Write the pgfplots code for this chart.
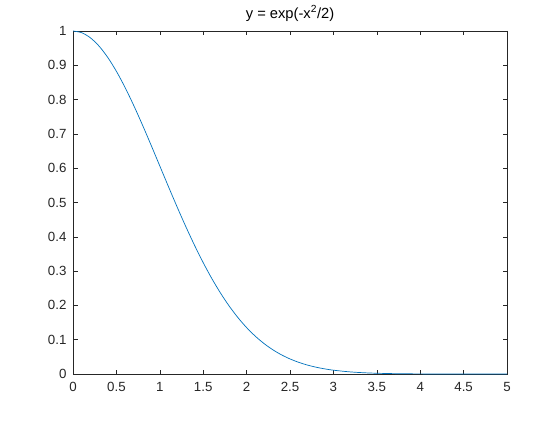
\documentclass[border=0pt]{standalone}
\usepackage{pgfplots}
\pgfplotsset{compat=1.18}
\usepackage{fontspec}
\setmainfont{Liberation Sans}
\definecolor{mlblue}{rgb}{0,0.447,0.741}
\definecolor{mlgray}{rgb}{0.15,0.15,0.15}
\begin{document}
\begin{tikzpicture}[x=1bp,y=1bp]
\path[use as bounding box, fill=white] (0,0) rectangle (560,420);
\begin{axis}[
  at={(73bp,46bp)}, anchor=south west,
  scale only axis, width=434bp, height=343bp,
  xmin=0, xmax=5, ymin=0, ymax=1,
  xtick={0,0.5,...,5}, ytick={0,0.1,...,1},
  tick align=inside, major tick length=4.5bp,
  axis line style={mlgray, line width=0.6bp},
  every tick/.style={mlgray, line width=0.6bp},
  tick label style={font=\fontsize{13.3bp}{15bp}\selectfont, text=mlgray},
  /pgf/number format/assume math mode=true,
  xticklabel style={yshift=-5bp},
  yticklabel style={xshift=-3bp},
  title={y = exp(-x\textsuperscript{2}/2)},
  title style={font=\fontsize{14.7bp}{16bp}\selectfont, text=black, at={(0.5,1)}, anchor=base, yshift=7bp},
]
\addplot[mlblue, line width=0.7bp, smooth] coordinates {
(0,1) (0.1,0.995012) (0.2,0.980199) (0.3,0.955997) (0.4,0.923116)
(0.5,0.882497) (0.6,0.835270) (0.7,0.782705) (0.8,0.726149) (0.9,0.666977)
(1.0,0.606531) (1.1,0.546074) (1.2,0.486752) (1.3,0.429557) (1.4,0.375311)
(1.5,0.324652) (1.6,0.278037) (1.7,0.235746) (1.8,0.197899) (1.9,0.164474)
(2.0,0.135335) (2.1,0.110251) (2.2,0.088922) (2.3,0.071005) (2.4,0.056135)
(2.5,0.043937) (2.6,0.034047) (2.7,0.026121) (2.8,0.019841) (2.9,0.014921)
(3.0,0.011109) (3.2,0.005976) (3.4,0.003089) (3.6,0.001534) (3.8,0.000732)
(4.0,0.000335) (4.5,0.00004) (5.0,0.0000037)
};
\end{axis}
\end{tikzpicture}
\end{document}
